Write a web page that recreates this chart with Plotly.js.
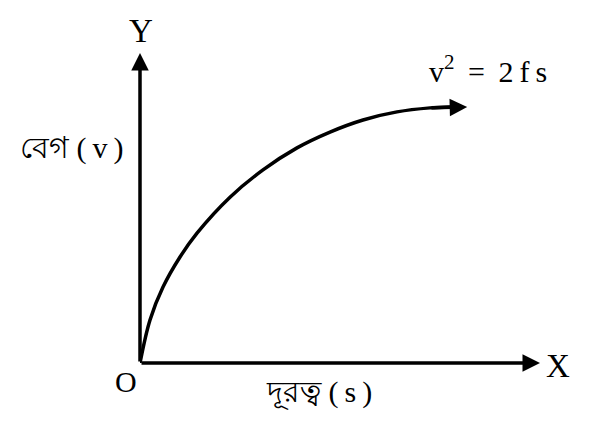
<!DOCTYPE html>
<html>
<head>
<meta charset="utf-8">
<script src="https://cdn.plot.ly/plotly-3.0.1.min.js"></script>
<style>html,body{margin:0;padding:0;background:#fff;}#chart{width:590px;height:434px;}</style>
</head>
<body>
<div id="chart"></div>
<script>
// Curve v(s) (arbitrary units, axes 0..10)
var distance = [0, 0.25, 0.575, 1.0, 1.425, 2.25, 3.075, 3.925, 4.75, 5.575, 6.425, 7.25, 7.75];
var velocity = [0, 1.39, 2.45, 3.42, 4.19, 5.35, 6.23, 6.94, 7.45, 7.84, 8.10, 8.23, 8.26];
var arrowTip = [8.18, 8.26];
var axisMax = [10, 10];

var labels = {
  yName: 'Y', xName: 'X', origin: 'O',
  yTitle: 'বেগ (\u2009v\u2009)', xTitle: 'দূরত্ব (\u2009s\u2009)',
  equation: 'v<sup>2</sup>\u00a0\u2009=\u00a0\u20092\u2009f\u2009s'
};

var serif = 'Liberation Serif, Times New Roman, serif';
var black = '#000';

var trace = {
  x: distance, y: velocity, mode: 'lines', type: 'scatter',
  line: {color: black, width: 3.5, shape: 'spline', smoothing: 1},
  hoverinfo: 'skip', cliponaxis: false
};

function arrow(x, y, ax, ay) {
  return {x: x, y: y, ax: ax, ay: ay, xref: 'x', yref: 'y', axref: 'x', ayref: 'y',
    showarrow: true, arrowhead: 2, arrowsize: 1.0, arrowwidth: 3.5, arrowcolor: black,
    standoff: 0, startstandoff: 0, text: ''};
}
// labels placed in paper units (axis range is 0..10, so paper = value / 10)
function label(text, x, y, size) {
  return {x: x / axisMax[0], y: y / axisMax[1], xref: 'paper', yref: 'paper', text: text, showarrow: false,
    xanchor: 'center', yanchor: 'middle',
    font: {family: serif, size: size, color: black}};
}

var n = distance.length;
var annotations = [
  arrow(axisMax[0], 0, 0, 0),
  arrow(0, axisMax[1], 0, 0),
  arrow(arrowTip[0], arrowTip[1], distance[n - 2], velocity[n - 2]),
  label(labels.yName, 0.02, 10.71, 33),
  label(labels.xName, 10.45, -0.1, 33),
  label(labels.origin, -0.35, -0.6, 30),
  label(labels.yTitle, -1.7, 6.94, 30),
  label(labels.xTitle, 4.475, -0.94, 30),
  label(labels.equation, 8.7, 9.5, 30)
];

var layout = {
  width: 590, height: 434,
  margin: {l: 140, r: 50, t: 53, b: 71, pad: 0},
  paper_bgcolor: '#fff', plot_bgcolor: '#fff',
  showlegend: false,
  xaxis: {range: [0, 10], showgrid: false, zeroline: false, showline: false, showticklabels: false, ticks: '', fixedrange: true},
  yaxis: {range: [0, 10], showgrid: false, zeroline: false, showline: false, showticklabels: false, ticks: '', fixedrange: true},
  annotations: annotations
};

Plotly.newPlot('chart', [trace], layout, {displayModeBar: false, staticPlot: true});
</script>
</body>
</html>
